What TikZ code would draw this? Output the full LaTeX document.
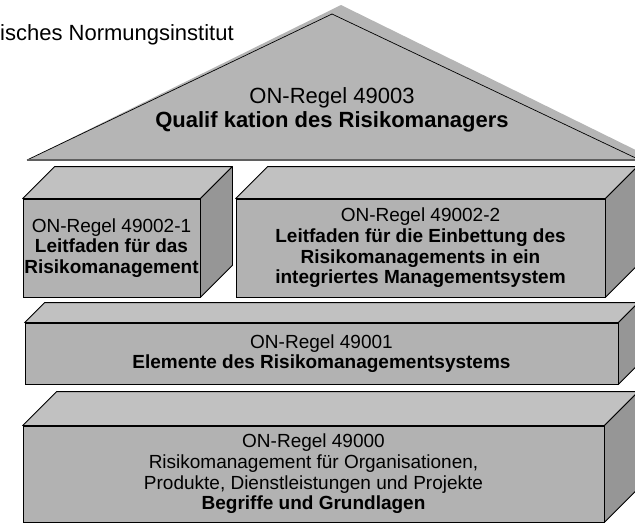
\documentclass[tikz,border=0pt]{standalone}
\usepackage{fontspec}
\setmainfont{Liberation Sans}
\usepackage{xcolor}
\usepackage{tikz}
\usetikzlibrary{calc}

\definecolor{frontgray}{RGB}{178,178,178}
\definecolor{topgray}{RGB}{193,193,193}
\definecolor{sidegray}{RGB}{150,150,150}
\definecolor{roofgray}{RGB}{181,181,181}
\definecolor{basegray}{RGB}{95,95,95}

\begin{document}
\begin{tikzpicture}[
  x=1pt,y=-1pt,
  front/.style={draw,fill=frontgray,line width=0.8pt,align=center,inner sep=0pt,
    font=\fontsize{19}{20.6}\selectfont},
  topface/.style={draw,fill=topgray,line width=0.8pt,line join=round},
  sideface/.style={draw,fill=sidegray,line width=0.8pt,line join=round},
  rooftext/.style={align=center,inner sep=0pt,font=\fontsize{22}{24.5}\selectfont}
]
\clip (0,0) rectangle (635,528);
% Dach
\fill[roofgray] (27,160) -- (341,5) -- (656,160) -- cycle;
\draw[line width=0.7pt] (27,160) -- (332,14) -- (642,161);
\draw[basegray,line width=2pt] (27,159.5) -- (640,159.5);
\node[rooftext] (roof) at (332,110) {ON-Regel 49003\\\textbf{Qualif kation des Risikomanagers}};
\node[anchor=base west,inner sep=0pt,font=\fontsize{22}{24}\selectfont] (inst) at (0,40) {isches Normungsinstitut};
% Bausteine
\node[front,minimum width=177,minimum height=98] (lf1) at (111.5,248)
  {ON-Regel 49002-1\\\textbf{Leitfaden für das}\\\textbf{Risikomanagement}};
\node[front,minimum width=369,minimum height=98] (lf2) at (420.5,248)
  {ON-Regel 49002-2\\\textbf{Leitfaden für die Einbettung des}\\\textbf{Risikomanagements in ein}\\\textbf{integriertes Managementsystem}};
\node[front,minimum width=593,minimum height=61] (elem) at (321.5,353.5)
  {ON-Regel 49001\\\textbf{Elemente des Risikomanagementsystems}};
\node[front,minimum width=581,minimum height=96] (grund) at (313.5,474)
  {ON-Regel 49000\\Risikomanagement für Organisationen,\\Produkte, Dienstleistungen und Projekte\\\textbf{Begriffe und Grundlagen}};
\foreach \b/\d in {lf1/32,lf2/32,elem/20,grund/34} {
  \draw[topface] (\b.north west) -- ++(\d,-\d) -- ($(\b.north east)+(\d,-\d)$) -- (\b.north east) -- cycle;
  \draw[sideface] (\b.north east) -- ++(\d,-\d) -- ($(\b.south east)+(\d,-\d)$) -- (\b.south east) -- cycle;
}
\end{tikzpicture}
\end{document}
